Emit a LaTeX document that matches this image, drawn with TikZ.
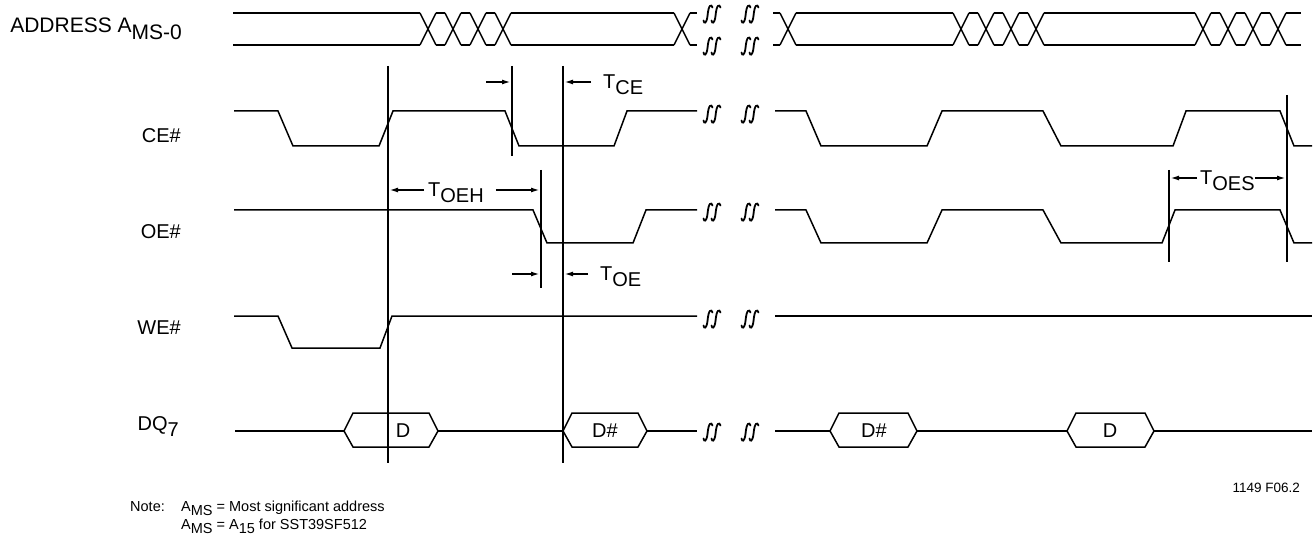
\documentclass[tikz,border=0pt]{standalone}
\usepackage{fontspec}
\setmainfont{Liberation Sans}
\usetikzlibrary{arrows.meta}

% lowered subscript, same size as the text
\newcommand{\lo}[1]{\raisebox{-0.3em}[0pt][0pt]{#1}}

\tikzset{
  wave/.style={line width=1.5pt, line join=miter},
  marker/.style={line width=1.5pt},
  dim/.style={line width=1.1pt, -{Latex[length=8pt,width=5pt]}, shorten >=2pt},
  lbl/.style={font=\fontsize{20}{22}\selectfont, inner sep=0pt},
  note/.style={font=\fontsize{14.5}{16}\selectfont, inner sep=0pt, anchor=base west},
  pics/brk/.style={code={
    \foreach \dx in {-4,4}
      \draw[line width=1.8pt, line cap=round, shift={(\dx,0)}] (-4.5,6.5) .. controls (-4,10) and (-1.5,10) .. (-0.5,2)
        .. controls (0.5,-10) and (3.5,-10) .. (4.5,-6.5);
  }}
}

\begin{document}
\begin{tikzpicture}[x=1pt, y=-1pt]
  \useasboundingbox (0,0) rectangle (1314,537);

  % signal names
  \node[lbl, font=\fontsize{21}{23}\selectfont, anchor=base east] (addr) at (182,33) {ADDRESS A\lo{MS-0}};
  \node[lbl, anchor=base east] (ce) at (181,143) {CE\#};
  \node[lbl, anchor=base east] (oe) at (181,239) {OE\#};
  \node[lbl, anchor=base east] (we) at (181,334) {WE\#};
  \node[lbl, anchor=base east] (dq) at (179,430) {DQ\lo{7}};

  % address bus
  \foreach \c in {428,453,478,503,682,788,961,986,1011,1036,1203,1228,1253,1278}
    \draw[wave] (\c-8,13) -- (\c+8,45) (\c-8,45) -- (\c+8,13);
  \foreach \a/\b in {225/428,428/453,453/478,478/503,503/682,682/705,
                     765/788,788/961,961/986,986/1011,1011/1036,1036/1203,
                     1203/1228,1228/1253,1253/1278,1278/1309}
    \draw[wave] (\a+8,13) -- (\b-8,13) (\a+8,45) -- (\b-8,45);

  % CE#
  \draw[wave] (234,111) -- (278,111) -- (293,146) -- (379,146) -- (393,111) -- (505,111)
    -- (519,146) -- (614,146) -- (627,111) -- (697,111);
  \draw[wave] (775,111) -- (806,111) -- (821,146) -- (927,146) -- (942,111) -- (1043,111)
    -- (1061,146) -- (1173,146) -- (1186,111) -- (1280,111) -- (1294,146) -- (1312,146);

  % OE#
  \draw[wave] (234,210) -- (533,210) -- (547,243) -- (633,243) -- (646,210) -- (697,210);
  \draw[wave] (775,210) -- (806,210) -- (821,243) -- (927,243) -- (942,210) -- (1043,210)
    -- (1061,243) -- (1162,243) -- (1175,210) -- (1280,210) -- (1294,243) -- (1312,243);

  % WE#
  \draw[wave] (234,316) -- (278,316) -- (292,348) -- (380,348) -- (392,316) -- (697,316);
  \draw[wave] (775,316) -- (1312,316);

  % DQ7
  \draw[wave] (235,431) -- (344,431) (438,431) -- (563,431) (647,431) -- (697,431);
  \draw[wave] (775,431) -- (830,431) (917,431) -- (1067,431) (1154,431) -- (1312,431);
  \foreach \l/\r/\t/\name/\txt in {344/438/403/d1/D, 563/647/605/d2/D\#,
                                  830/917/874/d3/D\#, 1067/1154/1110/d4/D} {
    \draw[wave] (\l,431) -- (\l+9,413) -- (\r-9,413) -- (\r,431) -- (\r-9,447) -- (\l+9,447) -- cycle;
    \node[lbl] (\name) at (\t,431) {\txt};
  }

  % breaks
  \foreach \y in {14,46,114,212,319,432} {
    \pic at (712,\y) {brk};
    \pic at (750,\y) {brk};
  }

  % reference lines
  \coordinate (v1t) at (388,66);  \coordinate (v1b) at (388,463);
  \coordinate (v2t) at (563,66);  \coordinate (v2b) at (563,463);
  \coordinate (vcet) at (512,66); \coordinate (vceb) at (512,156);
  \coordinate (voet) at (541,170); \coordinate (voeb) at (541,288);
  \coordinate (vs1t) at (1169,170); \coordinate (vs1b) at (1169,262);
  \coordinate (vs2t) at (1287,95);  \coordinate (vs2b) at (1287,262);
  \foreach \v in {v1,v2,vce,voe,vs1,vs2}
    \draw[marker] (\v t) -- (\v b);

  % TCE
  \node[lbl, anchor=west] (tce) at (603,82) {T\lo{CE}};
  \coordinate (tcea) at (486,82);
  \draw[dim] (tcea) -- (tcea -| vcet);
  \draw[dim, shorten <=12pt] (tce.west) -- (tce.west -| v2t);

  % TOEH
  \node[lbl, anchor=west] (toeh) at (428,190) {T\lo{OEH}};
  \draw[dim, shorten <=4pt] (toeh.west) -- (toeh.west -| v1t);
  \draw[dim, shorten <=12pt] (toeh.east) -- (toeh.east -| voet);

  % TOE
  \node[lbl, anchor=west] (toe) at (600,274) {T\lo{OE}};
  \coordinate (toea) at (512,274);
  \draw[dim] (toea) -- (toea -| voet);
  \draw[dim, shorten <=12pt] (toe.west) -- (toe.west -| v2t);

  % TOES
  \node[lbl, anchor=west] (toes) at (1200,178) {T\lo{OES}};
  \draw[dim, shorten <=3pt] (toes.west) -- (toes.west -| vs1t);
  \draw[dim] (toes.east) -- (toes.east -| vs2t);

  % figure number and note
  \node[font=\fontsize{13.5}{15}\selectfont, inner sep=0pt, anchor=base east] (fig) at (1300,492) {1149 F06.2};
  \node[note] (nt) at (130,511) {Note:};
  \node[note] (n1) at (181,511) {A\lo{MS} = Most significant address};
  \node[note] (n2) at (181,529) {A\lo{MS} = A\lo{15} for SST39SF512};
\end{tikzpicture}
\end{document}
